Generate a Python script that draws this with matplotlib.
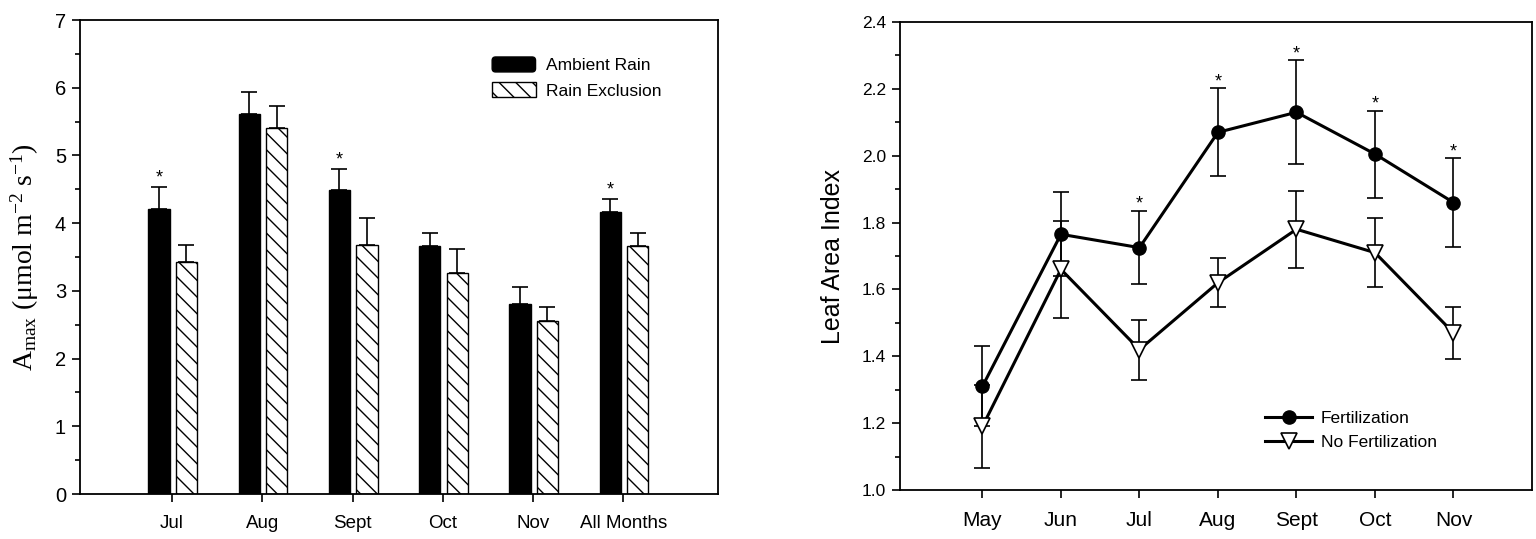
import matplotlib
matplotlib.use("Agg")
import matplotlib.pyplot as plt
import numpy as np
from matplotlib.ticker import MultipleLocator
from matplotlib.patches import FancyBboxPatch, Rectangle
from matplotlib.legend_handler import HandlerPatch

# ---------------- data ----------------
months_a = ['Jul', 'Aug', 'Sept', 'Oct', 'Nov', 'All Months']
ambient = [4.21, 5.61, 4.49, 3.66, 2.81, 4.16]
ambient_err = [0.32, 0.32, 0.31, 0.20, 0.25, 0.19]
exclusion = [3.42, 5.40, 3.68, 3.27, 2.55, 3.66]
exclusion_err = [0.26, 0.33, 0.39, 0.35, 0.21, 0.20]
sig_a = [True, False, True, False, False, True]

months_b = ['May', 'Jun', 'Jul', 'Aug', 'Sept', 'Oct', 'Nov']
fert = [1.31, 1.765, 1.725, 2.07, 2.13, 2.005, 1.86]
fert_err = [0.12, 0.126, 0.11, 0.132, 0.155, 0.13, 0.133]
nofert = [1.19, 1.66, 1.42, 1.62, 1.78, 1.71, 1.47]
nofert_err = [0.125, 0.145, 0.09, 0.073, 0.115, 0.104, 0.078]
sig_b = [False, False, True, True, True, True, True]

plt.rcParams['font.family'] = ['Liberation Sans', 'DejaVu Sans']
plt.rcParams['mathtext.fontset'] = 'custom'
plt.rcParams['mathtext.rm'] = 'Liberation Serif'
plt.rcParams['mathtext.it'] = 'Liberation Serif:italic'
plt.rcParams['hatch.linewidth'] = 1.0

fig = plt.figure(figsize=(15.36, 5.39), dpi=100)
axA = fig.add_axes([80/1536, 45/539, 638/1536, 474/539])
axB = fig.add_axes([900/1536, 49/539, 632/1536, 468/539])

for ax in (axA, axB):
    for s in ax.spines.values():
        s.set_linewidth(1.3)
    ax.tick_params(direction='out', length=6, width=1.2, pad=4)
    ax.tick_params(which='minor', direction='out', length=3.5, width=1.2)

# ---------------- left panel ----------------
xa = np.arange(len(months_a))
w = 0.235
off_b, off_h = -0.145, 0.16
axA.bar(xa + off_b, ambient, w, color='black', edgecolor='black', lw=1, zorder=2)
axA.bar(xa + off_h, exclusion, w, color='white', edgecolor='black', lw=1,
        hatch='\\\\', zorder=2)
axA.errorbar(xa + off_b, ambient, yerr=[np.zeros(len(xa)), ambient_err], fmt='none',
             ecolor='black', elinewidth=1.2, capsize=6, capthick=1.2, zorder=1)
axA.errorbar(xa + off_h, exclusion, yerr=[np.zeros(len(xa)), exclusion_err], fmt='none',
             ecolor='black', elinewidth=1.2, capsize=6, capthick=1.2, zorder=1)
for i, s in enumerate(sig_a):
    if s:
        axA.text(xa[i] + off_b, ambient[i] + ambient_err[i] + 0.01, '*',
                 ha='center', va='bottom', fontsize=13)

axA.set_xlim(-1.02, 6.05)
axA.set_ylim(0, 7)
axA.set_xticks(xa)
axA.set_xticklabels(months_a, fontsize=13.5)
axA.tick_params(axis='x', pad=9)
axA.yaxis.set_major_locator(MultipleLocator(1))
axA.yaxis.set_minor_locator(MultipleLocator(0.5))
axA.tick_params(axis='y', labelsize=14.5)
axA.set_ylabel(r'$\mathrm{A}_{\mathrm{max}}$ (μmol m$^{-2}$ s$^{-1}$)', fontsize=20,
               family='Liberation Serif', labelpad=10)


class RoundHandler(HandlerPatch):
    def create_artists(self, legend, orig_handle, xdescent, ydescent, width,
                       height, fontsize, trans):
        p = FancyBboxPatch((-xdescent + 2.5, -ydescent + 2.5), width - 5, height - 5,
                           boxstyle='round,pad=2.5', facecolor='black',
                           edgecolor='black', transform=trans)
        return [p]


h1 = Rectangle((0, 0), 1, 1, facecolor='black', edgecolor='black')
h2 = Rectangle((0, 0), 1, 1, facecolor='white', edgecolor='black', hatch='\\\\')
axA.legend([h1, h2], ['Ambient Rain', 'Rain Exclusion'], loc='upper left',
           bbox_to_anchor=(0.646, 0.922), frameon=False, fontsize=12.5,
           handlelength=2.5, handleheight=0.95, handletextpad=0.6,
           labelspacing=0.5, borderpad=0, borderaxespad=0,
           handler_map={h1: RoundHandler()})

# ---------------- right panel ----------------
xb = np.arange(len(months_b))
axB.errorbar(xb, fert, yerr=fert_err, fmt='none', ecolor='black', elinewidth=1.2,
             capsize=6, capthick=1.2, zorder=2)
axB.errorbar(xb, nofert, yerr=nofert_err, fmt='none', ecolor='black', elinewidth=1.2,
             capsize=6, capthick=1.2, zorder=2)
axB.plot(xb, fert, color='black', lw=2.2, marker='o', markersize=9.5,
         markerfacecolor='black', markeredgecolor='black', zorder=3,
         label='Fertilization')
axB.plot(xb, nofert, color='black', lw=2.2, marker='v', markersize=11,
         markerfacecolor='white', markeredgecolor='black', markeredgewidth=1.2,
         zorder=3, label='No Fertilization')
for i, s in enumerate(sig_b):
    if s:
        axB.text(xb[i], fert[i] + fert_err[i] - 0.006, '*', ha='center',
                 va='bottom', fontsize=13)

axB.set_xlim(-1.05, 7.0)
axB.set_ylim(1.0, 2.4)
axB.set_xticks(xb)
axB.set_xticklabels(months_b, fontsize=15)
axB.tick_params(axis='x', pad=9)
axB.yaxis.set_major_locator(MultipleLocator(0.2))
axB.yaxis.set_minor_locator(MultipleLocator(0.1))
axB.yaxis.set_major_formatter(matplotlib.ticker.FormatStrFormatter('%.1f'))
axB.tick_params(axis='y', labelsize=12.5)
axB.set_ylabel('Leaf Area Index', fontsize=18, labelpad=12)
axB.legend(loc='upper left', bbox_to_anchor=(0.578, 0.17), frameon=False,
           fontsize=12.5, handlelength=2.7, handletextpad=0.5, labelspacing=0.55,
           borderpad=0, borderaxespad=0)

fig.savefig('out.png', dpi=100)
